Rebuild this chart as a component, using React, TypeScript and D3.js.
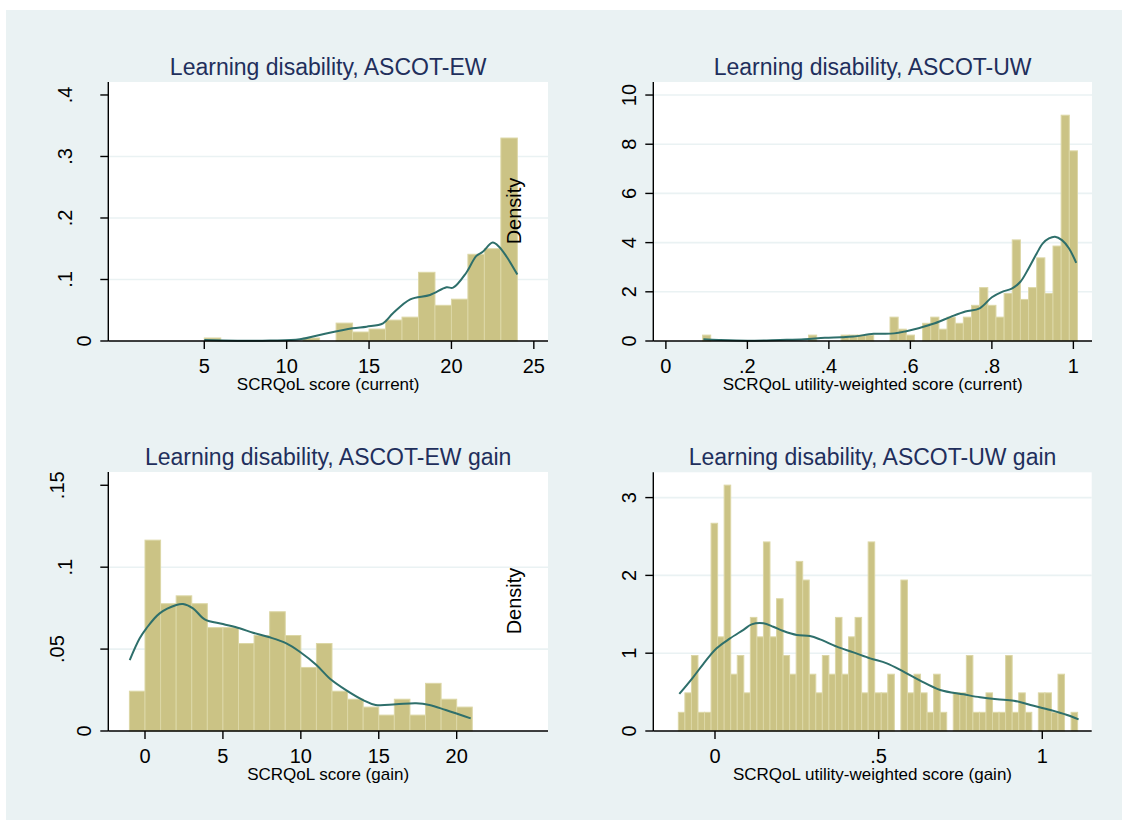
import React from "react";
import * as d3 from "d3";

// histogram densities (bin start, bin width, heights)
const ewStart = 5;
const ewWidth = 1;
const ewDensity = [0.0049, 0, 0, 0, 0, 0, 0.0049, 0, 0.0291, 0.0146, 0.0194, 0.034, 0.0388, 0.1117, 0.058, 0.068, 0.141, 0.150, 0.330];

const uwStart = 0.09;
const uwWidth = 0.02;
const uwDensity = [
  0.24, 0, 0, 0, 0, 0, 0, 0, 0, 0, 0, 0, 0, 0.24, 0, 0, 0, 0.24, 0.24, 0.24,
  0.24, 0, 0, 0.97, 0.48, 0.24, 0, 0.72, 0.97, 0.48, 0.97, 0.72, 0.97, 1.45, 2.17, 1.45,
  0.97, 1.93, 4.11, 1.69, 2.17, 3.38, 1.93, 3.86, 9.18, 7.73,
];

const ewGainStart = -1;
const ewGainWidth = 1;
const ewGainDensity = [
  0.0243, 0.1165, 0.0777, 0.0825, 0.0777, 0.0631, 0.0631, 0.0534, 0.0583, 0.0728, 0.0583,
  0.0388, 0.0534, 0.0243, 0.0194, 0.0146, 0.0097, 0.0194, 0.0097, 0.0291, 0.0194, 0.0146,
];

const uwGainStart = -0.112;
const uwGainWidth = 0.02;
const uwGainDensity = [
  0.24, 0.49, 0.97, 0.24, 0.24, 2.67, 1.21, 3.16, 0.73, 0.97,
  0.49, 1.46, 1.21, 2.43, 1.21, 1.7, 0.97, 0.73, 2.18, 1.94,
  0.73, 0.49, 0.97, 0.73, 1.46, 0.73, 1.21, 1.46, 0.49, 2.43,
  0.49, 0.49, 0.73, 0, 1.94, 0.49, 0.73, 0.49, 0.24, 0.73,
  0.24, 0, 0.49, 0.49, 0.97, 0.24, 0.24, 0.49, 0.24, 0.24,
  0.97, 0.24, 0.49, 0.24, 0, 0.49, 0.49, 0.24, 0.73, 0, 0.24,
];

// kernel density curves
const ewKdeX = [5.0, 7, 9, 10.8, 12.0, 14.0, 14.85, 15.85, 16.45, 17.5, 18.7, 19.7, 20.1, 20.9, 21.5, 21.9, 22.5, 22.9, 23.35, 24.0];
const ewKdeY = [0.0016, 0.0005, 0.0008, 0.0027, 0.0098, 0.0206, 0.0233, 0.0287, 0.045, 0.0678, 0.0748, 0.0873, 0.0867, 0.111, 0.138, 0.145, 0.16, 0.153, 0.137, 0.108];

const uwKdeX = [0.092, 0.13, 0.2, 0.28, 0.34, 0.39, 0.43, 0.46, 0.51, 0.56, 0.59, 0.62, 0.66, 0.7, 0.735, 0.77, 0.8, 0.825, 0.85, 0.87, 0.89, 0.91, 0.925, 0.94, 0.955, 0.972, 0.989, 1.007];
const uwKdeY = [0.07, 0.04, 0.01, 0.04, 0.07, 0.13, 0.15, 0.18, 0.29, 0.31, 0.4, 0.52, 0.72, 0.99, 1.2, 1.33, 1.78, 2.0, 2.14, 2.41, 2.95, 3.56, 3.97, 4.17, 4.24, 4.1, 3.77, 3.18];

const ewGainKdeX = [-0.98, -0.34, 0.09, 0.94, 2.01, 2.44, 3.08, 3.83, 5.0, 6.07, 6.93, 8.0, 9.07, 9.93, 11.0, 11.85, 12.9, 14.0, 14.8, 16.1, 17.4, 18.25, 19.3, 20.9];
const ewGainKdeY = [0.0433, 0.0566, 0.0627, 0.0718, 0.0769, 0.0775, 0.0749, 0.0682, 0.0653, 0.0627, 0.06, 0.0572, 0.0535, 0.0484, 0.0403, 0.0321, 0.025, 0.0189, 0.0159, 0.0163, 0.0169, 0.0159, 0.0128, 0.0077];

const uwGainKdeX = [-0.109, -0.067, -0.036, 0.005, 0.046, 0.087, 0.112, 0.148, 0.178, 0.209, 0.25, 0.29, 0.321, 0.372, 0.423, 0.474, 0.525, 0.576, 0.627, 0.688, 0.76, 0.81, 0.862, 0.913, 0.964, 1.025, 1.076, 1.111];
const uwGainKdeY = [0.476, 0.69, 0.861, 1.063, 1.19, 1.3, 1.37, 1.384, 1.34, 1.285, 1.234, 1.22, 1.178, 1.084, 1.011, 0.934, 0.87, 0.763, 0.647, 0.527, 0.471, 0.433, 0.407, 0.39, 0.334, 0.27, 0.206, 0.15];

// ticks
const ewXTicks = [5, 10, 15, 20, 25];
const ewYTicks = [0, 0.1, 0.2, 0.3, 0.4];
const uwXTicks = [0, 0.2, 0.4, 0.6, 0.8, 1];
const uwYTicks = [0, 2, 4, 6, 8, 10];
const ewGainXTicks = [0, 5, 10, 15, 20];
const ewGainYTicks = [0, 0.05, 0.1, 0.15];
const uwGainXTicks = [0, 0.5, 1];
const uwGainYTicks = [0, 1, 2, 3];

const BG = "#eaf2f3";
const BAR = "#cbc385";
const BAR_EDGE = "#dcd7a6";
const LINE = "#2e6f6b";
const TITLE = "#1f2f5c";
const FONT = "'Liberation Sans', Arial, Helvetica, sans-serif";

// stata-style tick label: ".1" rather than "0.1"
const stataFmt = (v: number) => {
  if (v === 0) return "0";
  const s = String(+v.toFixed(3));
  return s.startsWith("0.") ? s.slice(1) : s;
};

type Panel = {
  title: string;
  xTitle: string;
  left: number;
  right: number;
  top: number;
  bottom: number;
  xDomain: [number, number];
  yDomain: [number, number];
  start: number;
  width: number;
  density: number[];
  kdeX: number[];
  kdeY: number[];
  xTicks: number[];
  yTicks: number[];
  gridTicks: number[];
  densityLabel?: [number, number];
};

const panels: Panel[] = [
  {
    title: "Learning disability, ASCOT-EW",
    xTitle: "SCRQoL score (current)",
    left: 108.3, right: 548, top: 82, bottom: 341,
    xDomain: [-0.825, 25.86], yDomain: [0, 0.4211],
    start: ewStart, width: ewWidth, density: ewDensity,
    kdeX: ewKdeX, kdeY: ewKdeY,
    xTicks: ewXTicks, yTicks: ewYTicks, gridTicks: [0.1, 0.2, 0.3],
    densityLabel: [521, 211],
  },
  {
    title: "Learning disability, ASCOT-UW",
    xTitle: "SCRQoL utility-weighted score (current)",
    left: 653.3, right: 1092, top: 82, bottom: 341,
    xDomain: [-0.0309, 1.0457], yDomain: [0, 10.53],
    start: uwStart, width: uwWidth, density: uwDensity,
    kdeX: uwKdeX, kdeY: uwKdeY,
    xTicks: uwXTicks, yTicks: uwYTicks, gridTicks: [2, 4, 6, 8, 10],
  },
  {
    title: "Learning disability, ASCOT-EW gain",
    xTitle: "SCRQoL score (gain)",
    left: 108.3, right: 548, top: 472, bottom: 731,
    xDomain: [-2.355, 25.86], yDomain: [0, 0.1581],
    start: ewGainStart, width: ewGainWidth, density: ewGainDensity,
    kdeX: ewGainKdeX, kdeY: ewGainKdeY,
    xTicks: ewGainXTicks, yTicks: ewGainYTicks, gridTicks: [0.05, 0.1],
    densityLabel: [521, 601],
  },
  {
    title: "Learning disability, ASCOT-UW gain",
    xTitle: "SCRQoL utility-weighted score (gain)",
    left: 653.3, right: 1091.7, top: 472.3, bottom: 731,
    xDomain: [-0.1885, 1.151], yDomain: [0, 3.325],
    start: uwGainStart, width: uwGainWidth, density: uwGainDensity,
    kdeX: uwGainKdeX, kdeY: uwGainKdeY,
    xTicks: uwGainXTicks, yTicks: uwGainYTicks, gridTicks: [1, 2, 3],
  },
];

const HistPanel = ({ p }: { p: Panel }) => {
  const x = d3.scaleLinear().domain(p.xDomain).range([p.left, p.right]);
  const y = d3.scaleLinear().domain(p.yDomain).range([p.bottom, p.top]);
  const line = d3
    .line<number>()
    .x((_, i) => x(p.kdeX[i]))
    .y((d) => y(d))
    .curve(d3.curveCatmullRom);
  const cx = (p.left + p.right) / 2;

  return (
    <g>
      <rect x={p.left} y={p.top} width={p.right - p.left} height={p.bottom - p.top} fill="#fff" />
      {p.gridTicks.map((t) => (
        <line key={t} x1={p.left} x2={p.right} y1={y(t)} y2={y(t)} stroke={BG} strokeWidth={1.6} />
      ))}
      {p.density.map((d, i) =>
        d > 0 ? (
          <rect
            key={i}
            x={x(p.start + i * p.width)}
            y={y(d)}
            width={x(p.start + (i + 1) * p.width) - x(p.start + i * p.width)}
            height={y(0) - y(d)}
            fill={BAR}
            stroke={BAR_EDGE}
            strokeWidth={1}
          />
        ) : null
      )}
      <path d={line(p.kdeY) ?? ""} fill="none" stroke={LINE} strokeWidth={2} />

      {/* axes */}
      <line x1={p.left} x2={p.left} y1={p.top} y2={p.bottom} stroke="#000" strokeWidth={1.4} />
      <line x1={p.left} x2={p.right} y1={p.bottom} y2={p.bottom} stroke="#000" strokeWidth={1.4} />
      {p.xTicks.map((t) => (
        <g key={t}>
          <line x1={x(t)} x2={x(t)} y1={p.bottom} y2={p.bottom + 8} stroke="#000" strokeWidth={1.4} />
          <text x={x(t)} y={p.bottom + 32} textAnchor="middle" fontSize={20}>
            {stataFmt(t)}
          </text>
        </g>
      ))}
      {p.yTicks.map((t) => {
        const lab = stataFmt(t);
        // stata nudges the rotated labels that start with a dot
        const shift = lab.startsWith(".") ? (lab.length - 1) * 8 + 11 : 0;
        const lx = p.left - 17 - shift;
        return (
          <g key={t}>
            <line x1={p.left - 8} x2={p.left} y1={y(t)} y2={y(t)} stroke="#000" strokeWidth={1.4} />
            <text x={lx} y={y(t)} textAnchor="middle" fontSize={20} transform={`rotate(-90,${lx},${y(t)})`}>
              {lab}
            </text>
          </g>
        );
      })}

      <text x={cx} y={p.bottom + 49} textAnchor="middle" fontSize={17}>
        {p.xTitle}
      </text>
      <text x={cx} y={p.top - 7} textAnchor="middle" fontSize={23} fill={TITLE}>
        {p.title}
      </text>
      {p.densityLabel && (
        <text
          x={p.densityLabel[0]}
          y={p.densityLabel[1]}
          textAnchor="middle"
          fontSize={20}
          transform={`rotate(-90,${p.densityLabel[0]},${p.densityLabel[1]})`}
        >
          Density
        </text>
      )}
    </g>
  );
};

export default function App() {
  return (
    <div style={{ position: "absolute", left: 0, top: 0 }}>
      <svg width={1122} height={820} style={{ display: "block", fontFamily: FONT }}>
        <rect width={1122} height={820} fill="#fff" />
        <rect x={6} y={10} width={1116} height={810} fill={BG} />
        {panels.map((p) => (
          <HistPanel key={p.title} p={p} />
        ))}
      </svg>
    </div>
  );
}
